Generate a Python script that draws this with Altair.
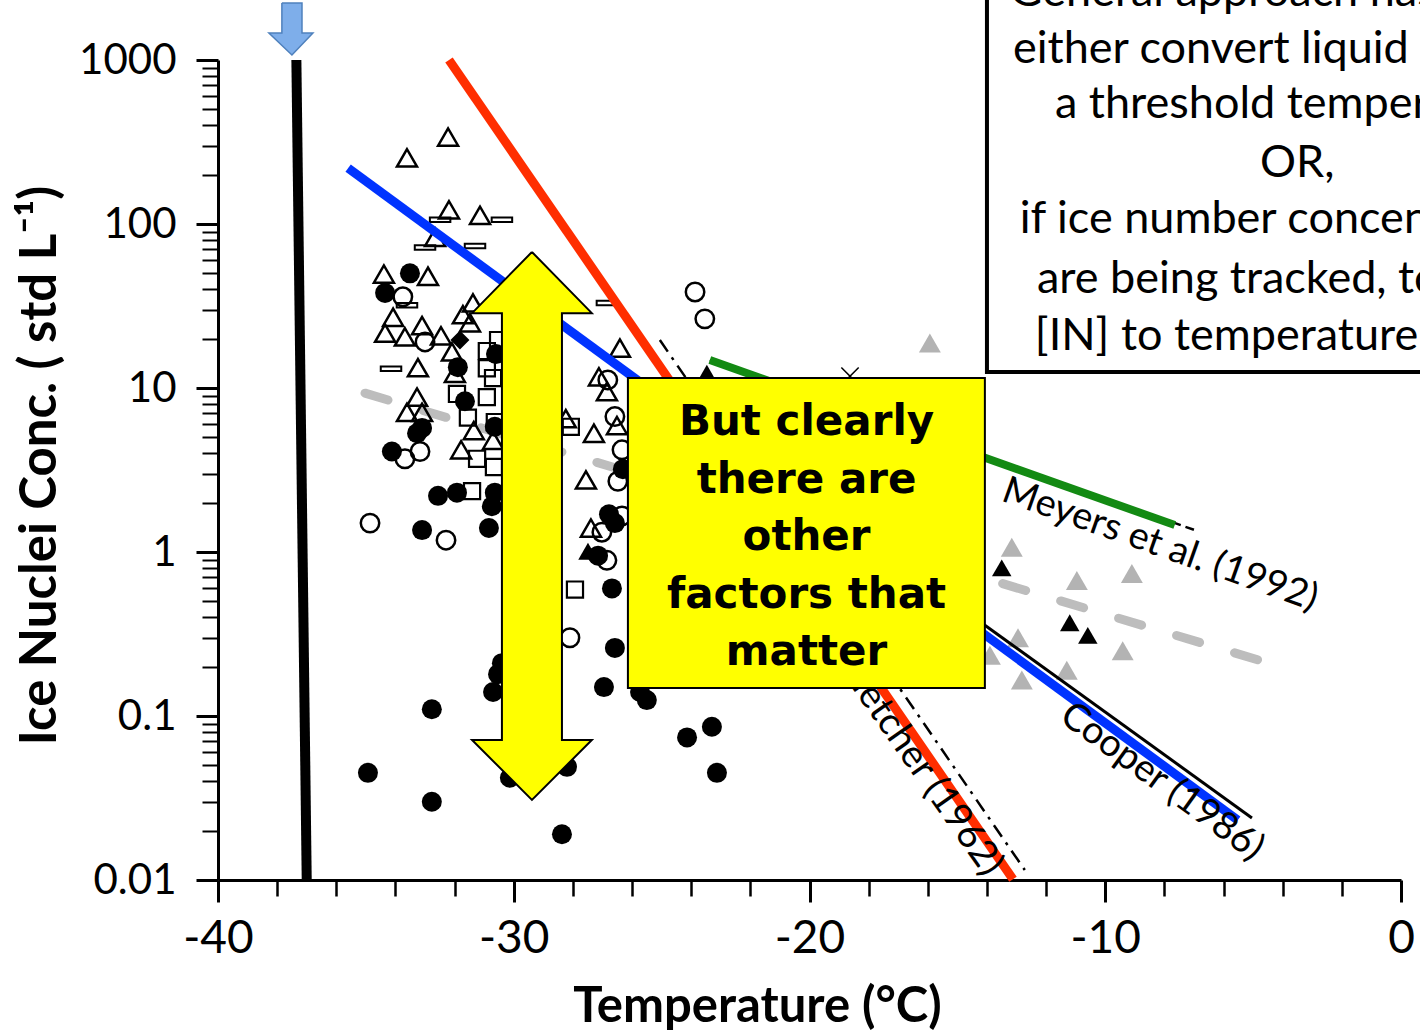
import altair as alt
import pandas as pd

FONT = "Lato"
BOLDFONT = "DejaVu Sans"

# ---------------- scatter data (Temperature degC, IN conc std/L) ----------------
open_tri_T = [-32.22, -33.61, -32.19, -31.14, -32.66, -34.39, -32.90, -31.38, -31.72, -31.48,
              -34.08, -33.10, -33.68, -32.46, -34.35, -32.09, -33.24, -31.99, -33.27, -33.61,
              -33.10, -31.35, -31.78, -30.70, -27.12, -26.85, -26.51, -28.24, -27.29, -27.56,
              -27.39, -26.41]
open_tri_C = [339, 253, 122, 113, 83, 49.5, 48, 33, 28, 25,
              27, 24, 20.5, 20.8, 21.6, 16.6, 13.3, 12.3, 8.8, 7.1,
              7.1, 5.5, 4.2, 4.8, 11.7, 9.5, 5.9, 6.5, 5.3, 2.75,
              1.4, 17.5]

dot_T = [-33.51, -34.35, -30.60, -31.89, -31.65, -33.10, -33.27, -34.12, -32.56, -31.92,
         -30.64, -30.74, -30.84, -33.10, -30.64, -26.31, -26.78, -26.58, -26.68, -26.58,
         -26.95, -32.77, -30.40, -30.53, -30.70, -34.93, -32.77, -30.13, -28.20, -28.37,
         -25.73, -25.50, -24.14, -23.30, -23.13, -27.15]
dot_C = [50, 38, 16.1, 13.4, 8.3, 5.7, 5.3, 4.1, 2.2, 2.3,
         2.3, 1.9, 1.4, 1.36, 5.8, 3.2, 1.7, 1.5, 0.60, 0.26,
         0.15, 0.11, 0.21, 0.18, 0.14, 0.045, 0.030, 0.042, 0.049, 0.019,
         0.14, 0.125, 0.074, 0.086, 0.045, 0.95]

ring_T = [-33.75, -33.00, -33.68, -33.17, -34.86, -32.29, -26.82, -26.58, -26.34, -26.48,
          -26.34, -27.02, -26.85, -28.10, -23.87, -23.54]
ring_C = [36, 19.1, 3.7, 4.1, 1.5, 1.18, 11.2, 6.7, 4.2, 2.7,
          1.66, 1.32, 0.89, 0.30, 38.5, 26.4]

square_T = [-30.91, -30.53, -30.91, -30.70, -31.92, -31.55, -31.24, -30.67, -31.41, -30.64,
            -30.91, -28.07, -27.93]
square_C = [16.8, 19.6, 13.2, 11.5, 9.2, 6.6, 3.7, 3.3, 2.35, 6.2,
            8.8, 5.8, 0.59]

dash_T = [-32.49, -30.40, -33.00, -31.31, -33.61, -26.85, -34.15]
dash_C = [106, 106, 72, 73.5, 32, 33, 13.1]

diamond_T = [-31.82]
diamond_C = [19.6]

black_tri_T = [-23.47, -13.50, -11.20, -10.59, -27.49]
black_tri_C = [12.3, 0.80, 0.37, 0.31, 1.01]

gray_tri_T = [-15.93, -13.16, -10.96, -9.10, -12.95, -12.82, -11.30, -9.41, -13.90]
gray_tri_C = [18.8, 1.07, 0.67, 0.74, 0.30, 0.166, 0.19, 0.25, 0.235]

cross_T = [-18.63]
cross_C = [11.8]

# ---------------- parameterisation lines ----------------
threshold_T = [-37.35, -37.0]
threshold_C = [1000, 0.01]
fletcher_T = [-32.19, -13.12]
fletcher_C = [1000, 0.0101]
fletcher_orig_T = [-25.06, -12.72]
fletcher_orig_C = [19.6, 0.0115]
cooper_T = [-35.6, -5.52]
cooper_C = [219, 0.0232]
cooper_orig_T = [-23.7, -5.04]
cooper_orig_C = [6.4, 0.0239]
meyers_T = [-23.37, -7.65]
meyers_C = [14.8, 1.46]
meyers_orig_T = [-23.37, -6.87]
meyers_orig_C = [14.8, 1.34]
fit_T = [-35.03, -4.84]
fit_C = [9.3, 0.22]

# ---------------- labels ----------------
curve_labels = ["Meyers et al. (1992)", "Cooper (1986)", "Fletcher (1962)"]
curve_label_T = [-8.15, -8.09, -16.23]
curve_label_C = [1.10, 0.0396, 0.0485]
curve_label_angle = [19.5, 36, 55]

# yellow double arrow outline
yarrow_T = [-29.385, -27.36, -28.37, -28.37, -27.36, -29.385, -31.41, -30.40, -30.40, -31.41, -29.385]
yarrow_C = [67.5, 28.6, 28.6, 0.0714, 0.0714, 0.0308, 0.0714, 0.0714, 28.6, 28.6, 67.5]

# blue down arrow at homogeneous freezing
barrow_T = [-37.84, -37.16, -37.16, -36.79, -37.50, -38.28, -37.84, -37.84]
barrow_C = [2228, 2228, 1462, 1462, 1072, 1462, 1462, 2228]

# yellow call-out box
ybox_T = [-26.14, -14.07]
ybox_C = [11.5, 0.148]
ybox_lines = ["But clearly", "there are", "other", "factors that", "matter"]
ybox_line_T = [-20.10, -20.10, -20.10, -20.10, -20.10]
ybox_line_C = [5.16, 2.29, 1.03, 0.456, 0.205]

# white text box (top right)
wbox_T = [-14.0, 1.6]
wbox_C = [12.5, 3100]
wbox_lines = ["General approach has been to", "either convert liquid to ice at",
              "a threshold temperature", "OR,", "if ice number concentrations",
              "are being tracked, to relate", "[IN] to temperature"]
wbox_line_T = [-13.23, -13.12, -11.70, -4.77, -12.89, -12.31, -12.38]
wbox_line_C = [2148, 959, 443, 194, 88, 38, 17.1]

x_major_vals = [-40, -30, -20, -10, 0]
x_minor_vals = [v for v in range(-38, 0, 2) if v % 10 != 0]
y_major_vals = [0.01, 0.1, 1, 10, 100, 1000]
y_minor_vals = [m * d for d in [0.01, 0.1, 1, 10, 100] for m in range(2, 10)]

# ---------------- helpers ----------------
xsc = alt.Scale(domain=[-40, 0], nice=False, zero=False)
ysc = alt.Scale(type="log", domain=[0.01, 1000], nice=False)


def xe(field="T", axis=None):
    return alt.X(f"{field}:Q", scale=xsc, axis=axis)


def ye(field="C", axis=None):
    return alt.Y(f"{field}:Q", scale=ysc, axis=axis)


def pts(T, C):
    return pd.DataFrame({"T": T, "C": C})


def path(T, C):
    return pd.DataFrame({"T": T, "C": C, "i": list(range(len(T)))})


x_major = alt.Axis(values=x_major_vals, labelExpr="'' + datum.value", grid=False, orient="bottom",
                   domainColor="black", domainWidth=3, tickColor="black", tickWidth=3,
                   tickSize=22, labelFont=FONT, labelFontSize=46, labelColor="black",
                   labelPadding=14, labelFlush=False,
                   title="Temperature (°C)", titleFont=FONT, titleFontSize=49,
                   titleFontWeight="bold", titleColor="black", titleX=539, titleY=141,
                   titleBaseline="alphabetic", titleAlign="center")
y_major = alt.Axis(values=y_major_vals, format="~g", grid=False, orient="left",
                   domainColor="black", domainWidth=3, tickColor="black", tickWidth=3,
                   tickSize=22, labelFont=FONT, labelFontSize=42, labelColor="black",
                   labelPadding=20,
                   title="Ice Nuclei Conc. ( std L⁻¹)", titleFont=FONT, titleFontSize=51,
                   titleFontWeight="bold", titleColor="black", titleX=-163, titleY=405,
                   titleAngle=270, titleBaseline="alphabetic", titleAlign="center")
x_minor = alt.Axis(values=x_minor_vals, labels=False, domain=False, grid=False, orient="bottom",
                   tickColor="black", tickWidth=2.5, tickSize=16, title="")
y_minor = alt.Axis(values=y_minor_vals, labels=False, domain=False, grid=False, orient="left",
                   tickColor="black", tickWidth=2, tickSize=16, title="")

layers = []

# gray dashed fit (carries major axes)
layers.append(alt.Chart(path(fit_T, fit_C)).mark_line(
    color="#bdbdbd", strokeWidth=9, strokeDash=[24, 36.5], strokeCap="round").encode(
    x=xe(axis=x_major), y=ye(axis=y_major), order="i:Q"))

# minor ticks carrier (Meyers original black dashed line)
layers.append(alt.Chart(path(meyers_orig_T, meyers_orig_C)).mark_line(
    color="black", strokeWidth=2.5, strokeDash=[9, 5]).encode(
    x=xe(axis=x_minor), y=ye(axis=y_minor), order="i:Q"))

# scatter
layers.append(alt.Chart(pts(gray_tri_T, gray_tri_C)).mark_point(
    shape="triangle-up", filled=True, color="#b3b3b3", size=480, opacity=1).encode(x=xe(), y=ye()))
layers.append(alt.Chart(pts(open_tri_T, open_tri_C)).mark_point(
    shape="triangle-up", filled=False, color="black", strokeWidth=2.5, size=400, opacity=1).encode(x=xe(), y=ye()))
layers.append(alt.Chart(pts(square_T, square_C)).mark_point(
    shape="square", filled=False, color="black", strokeWidth=2.2, size=260, opacity=1).encode(x=xe(), y=ye()))
layers.append(alt.Chart(pts(ring_T, ring_C)).mark_point(
    shape="circle", filled=False, color="black", strokeWidth=2.5, size=340, opacity=1).encode(x=xe(), y=ye()))
layers.append(alt.Chart(pts(dash_T, dash_C)).mark_point(
    shape="M-1,-0.22H1V0.22H-1Z", filled=False, color="black", strokeWidth=2, size=420, opacity=1).encode(x=xe(), y=ye()))
layers.append(alt.Chart(pts(dot_T, dot_C)).mark_point(
    shape="circle", filled=True, color="black", size=400, opacity=1).encode(x=xe(), y=ye()))
layers.append(alt.Chart(pts(diamond_T, diamond_C)).mark_point(
    shape="diamond", filled=True, color="black", size=360, opacity=1).encode(x=xe(), y=ye()))
layers.append(alt.Chart(pts(black_tri_T, black_tri_C)).mark_point(
    shape="triangle-up", filled=True, color="black", size=380, opacity=1).encode(x=xe(), y=ye()))
layers.append(alt.Chart(pts(cross_T, cross_C)).mark_point(
    shape="M-1,-1L1,1M-1,1L1,-1", filled=False, color="black", strokeWidth=1.5, size=300, opacity=1).encode(x=xe(), y=ye()))

# original curves (thin black)
layers.append(alt.Chart(path(cooper_orig_T, cooper_orig_C)).mark_line(
    color="black", strokeWidth=3).encode(x=xe(), y=ye(), order="i:Q"))
layers.append(alt.Chart(path(fletcher_orig_T, fletcher_orig_C)).mark_line(
    color="black", strokeWidth=2.5, strokeDash=[14, 7, 3, 7]).encode(x=xe(), y=ye(), order="i:Q"))

# coloured parameterisations
layers.append(alt.Chart(path(threshold_T, threshold_C)).mark_line(
    color="black", strokeWidth=10).encode(x=xe(), y=ye(), order="i:Q"))
layers.append(alt.Chart(path(cooper_T, cooper_C)).mark_line(
    color="#0033FF", strokeWidth=9).encode(x=xe(), y=ye(), order="i:Q"))
layers.append(alt.Chart(path(fletcher_T, fletcher_C)).mark_line(
    color="#FF2E00", strokeWidth=9).encode(x=xe(), y=ye(), order="i:Q"))
layers.append(alt.Chart(path(meyers_T, meyers_C)).mark_line(
    color="#138A13", strokeWidth=8).encode(x=xe(), y=ye(), order="i:Q"))

# curve labels
for lab, t, c, a in zip(curve_labels, curve_label_T, curve_label_C, curve_label_angle):
    layers.append(alt.Chart(pd.DataFrame({"T": [t], "C": [c], "label": [lab]})).mark_text(
        angle=a, font=FONT, fontSize=38, align="center", baseline="middle", color="black").encode(
        x=xe(), y=ye(), text="label:N"))

# yellow double arrow
layers.append(alt.Chart(path(yarrow_T, yarrow_C)).mark_line(
    fill="#FFFF00", stroke="black", strokeWidth=2, strokeJoin="miter").encode(
    x=xe(), y=ye(), order="i:Q"))

# yellow call-out box
layers.append(alt.Chart(pd.DataFrame({"T1": [ybox_T[0]], "T2": [ybox_T[1]],
                                      "C1": [ybox_C[0]], "C2": [ybox_C[1]]})).mark_rect(
    fill="#FFFF00", stroke="black", strokeWidth=2).encode(
    x=xe("T1"), x2="T2:Q", y=ye("C1"), y2="C2:Q"))
layers.append(alt.Chart(pd.DataFrame({"T": ybox_line_T, "C": ybox_line_C, "label": ybox_lines})).mark_text(
    font=BOLDFONT, fontWeight="bold", fontSize=42, align="center", baseline="alphabetic", color="black").encode(
    x=xe(), y=ye(), text="label:N"))

# white text box
layers.append(alt.Chart(pd.DataFrame({"T1": [wbox_T[0]], "T2": [wbox_T[1]],
                                      "C1": [wbox_C[0]], "C2": [wbox_C[1]]})).mark_rect(
    fill="white", stroke="black", strokeWidth=4).encode(
    x=xe("T1"), x2="T2:Q", y=ye("C1"), y2="C2:Q"))
layers.append(alt.Chart(pd.DataFrame({"T": wbox_line_T, "C": wbox_line_C, "label": wbox_lines})).mark_text(
    font=FONT, fontSize=45, align="left", baseline="alphabetic", color="black").encode(
    x=xe(), y=ye(), text="label:N"))

# blue arrow
layers.append(alt.Chart(path(barrow_T, barrow_C)).mark_line(
    fill="#7EAEEA", stroke="#4F81BD", strokeWidth=1.5, strokeJoin="miter").encode(
    x=xe(), y=ye(), order="i:Q"))

chart = alt.layer(*layers).resolve_axis(x="independent", y="independent").properties(
    width=1183, height=820,
    padding={"left": 218, "top": 60, "right": 19, "bottom": 155},
    autosize=alt.AutoSizeParams(type="none"),
    background="white",
).configure_view(stroke="transparent")

chart.save("out.html", embed_options={"renderer": "svg", "actions": False})
